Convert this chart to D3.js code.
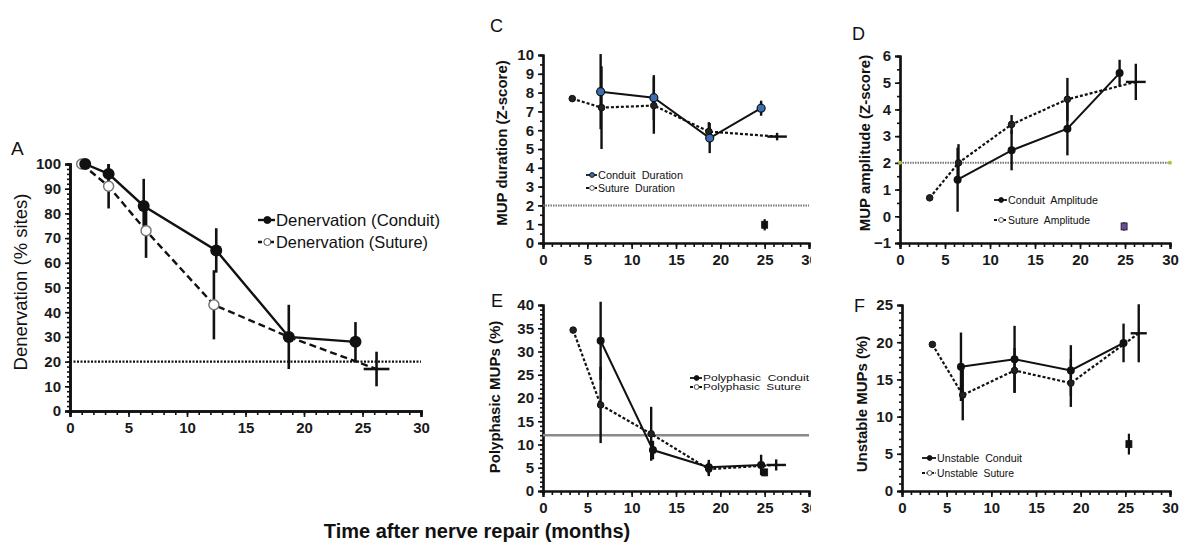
<!DOCTYPE html>
<html>
<head>
<meta charset="utf-8">
<script src="https://cdnjs.cloudflare.com/ajax/libs/d3/7.8.5/d3.min.js"></script>
<style>
  body { margin: 0; background: #fff; }
  svg { display: block; font-family: "Liberation Sans", Arial, sans-serif; }
</style>
</head>
<body>
<script>
const WIDTH = 1184;
const HEIGHT = 543;

// ---- data ----
// A: denervation (% sites)
const A_CONDUIT_MONTHS = [1.3, 3.3, 6.3, 12.5, 18.7, 24.4];
const A_CONDUIT = [100, 96, 83, 65, 30, 28];
const A_CONDUIT_ERR = [0, 4, 11, 9, 13, 8];
const A_SUTURE_MONTHS = [1.0, 3.3, 6.5, 12.3, 18.7, 26.2];
const A_SUTURE = [100, 91, 73, 43, 30, 17];
const A_SUTURE_ERR = [0, 9, 11, 14, 0, 7];
const A_SUTURE_XERR = [0, 0, 0, 0, 0, 1.1];

// C: MUP duration (Z-score)
const C_CONDUIT_MONTHS = [6.5, 12.5, 18.8, 24.6];
const C_CONDUIT = [8.05, 7.73, 5.58, 7.17];
const C_CONDUIT_ERR = [2.0, 1.2, 0.8, 0.4];
const C_SUTURE_MONTHS = [3.3, 6.6, 12.5, 18.7, 26.4];
const C_SUTURE = [7.68, 7.2, 7.31, 5.93, 5.66];
const C_SUTURE_ERR = [0, 2.2, 1.5, 0.5, 0.2];
const C_SUTURE_XERR = [0, 0, 0, 0, 1.1];
const C_EXTRA = [[25.0, 0.97, 0.3]];

// D: MUP amplitude (Z-score)
const D_CONDUIT_MONTHS = [6.4, 12.4, 18.6, 24.4];
const D_CONDUIT = [1.37, 2.47, 3.28, 5.36];
const D_CONDUIT_ERR = [1.2, 0.75, 1.0, 0.5];
const D_SUTURE_MONTHS = [3.3, 6.5, 12.4, 18.6, 26.2];
const D_SUTURE = [0.69, 2.0, 3.44, 4.38, 5.03];
const D_SUTURE_ERR = [0, 0.7, 0.35, 0.8, 0.68];
const D_SUTURE_XERR = [0, 0, 0, 0, 1.1];
const D_EXTRA = [[24.9, -0.38, 0.15]];

// E: polyphasic MUPs (%)
const E_CONDUIT_MONTHS = [6.5, 12.4, 18.7, 24.6];
const E_CONDUIT = [32.3, 8.8, 5.1, 5.6];
const E_CONDUIT_ERR = [8.4, 2.0, 1.6, 2.2];
const E_SUTURE_MONTHS = [3.4, 6.5, 12.2, 18.7, 26.3];
const E_SUTURE = [34.6, 18.5, 12.3, 4.7, 5.6];
const E_SUTURE_ERR = [0, 8.2, 5.8, 1.5, 1.2];
const E_SUTURE_XERR = [0, 0, 0, 0, 1.1];
const E_EXTRA = [[25.0, 4.0, 0.8]];

// F: unstable MUPs (%)
const F_CONDUIT_MONTHS = [6.6, 12.6, 18.9, 24.8];
const F_CONDUIT = [16.7, 17.7, 16.2, 19.9];
const F_CONDUIT_ERR = [4.6, 4.5, 3.4, 2.6];
const F_SUTURE_MONTHS = [3.4, 6.8, 12.6, 18.9, 26.5];
const F_SUTURE = [19.7, 12.9, 16.2, 14.5, 21.2];
const F_SUTURE_ERR = [0, 3.4, 3.0, 3.2, 3.9];
const F_SUTURE_XERR = [0, 0, 0, 0, 0.9];
const F_EXTRA = [[25.4, 6.3, 1.4]];

const X_TICKS = [0, 5, 10, 15, 20, 25, 30];

function zip(xs, ys, es, xes) {
  return xs.map((x, i) => ({ x: x, y: ys[i], e: es[i], xe: xes ? xes[i] : 0 }));
}

var svg = d3.select("body").append("svg")
  .attr("width", WIDTH)
  .attr("height", HEIGHT);

var panels = [
  {
    id: "A", letter: [11, 155], letterSize: 19,
    px: [70, 421], py: [411, 164], yDomain: [0, 100], yTicks: d3.range(0, 101, 10), yMinor: 2,
    tickFont: 15,
    title: "Denervation (% sites)", titlePos: [27, 282], titleSize: 18.5, titleWeight: "normal",
    conduit: zip(A_CONDUIT_MONTHS, A_CONDUIT, A_CONDUIT_ERR),
    suture: zip(A_SUTURE_MONTHS, A_SUTURE, A_SUTURE_ERR, A_SUTURE_XERR),
    extra: [], refY: 20, refStyle: "dotBlack", big: true,
    legend: { x: 258, y: 220, dy: 22, len: 17, size: 16.5, w: [164, 152], labels: ["Denervation (Conduit)", "Denervation (Suture)"] }
  },
  {
    id: "C", letter: [490, 32], letterSize: 18,
    px: [543, 809], py: [243, 55], yDomain: [0, 10], yTicks: d3.range(0, 11, 1), yMinor: 0.5,
    tickFont: 15,
    title: "MUP duration (Z-score)", titlePos: [507, 143], titleSize: 15, titleWeight: "bold",
    conduit: zip(C_CONDUIT_MONTHS, C_CONDUIT, C_CONDUIT_ERR),
    suture: zip(C_SUTURE_MONTHS, C_SUTURE, C_SUTURE_ERR, C_SUTURE_XERR),
    extra: C_EXTRA, extraColor: "#111", refY: 2, refStyle: "dotGray", conduitFill: "#3b6fb3",
    legend: { x: 586, y: 175, dy: 13, len: 11, size: 10, w: [85, 77], labels: ["Conduit  Duration", "Suture  Duration"] },
    clip: 809
  },
  {
    id: "D", letter: [852, 40], letterSize: 18,
    px: [900, 1170], py: [243, 56], yDomain: [-1, 6], yTicks: d3.range(-1, 7, 1), yMinor: 0.5,
    tickFont: 15,
    title: "MUP amplitude (Z-score)", titlePos: [870, 143], titleSize: 15, titleWeight: "bold",
    conduit: zip(D_CONDUIT_MONTHS, D_CONDUIT, D_CONDUIT_ERR),
    suture: zip(D_SUTURE_MONTHS, D_SUTURE, D_SUTURE_ERR, D_SUTURE_XERR),
    extra: D_EXTRA, extraColor: "#6a4c9c", refY: 2, refStyle: "dotGreenEnds",
    legend: { x: 994, y: 200, dy: 20, len: 13, size: 10, w: [90, 82], labels: ["Conduit  Amplitude", "Suture  Amplitude"] }
  },
  {
    id: "E", letter: [491, 307], letterSize: 18,
    px: [543, 809], py: [491, 305], yDomain: [0, 40], yTicks: d3.range(0, 41, 5), yMinor: 1,
    tickFont: 15,
    title: "Polyphasic  MUPs (%)", titlePos: [500, 397], titleSize: 15, titleWeight: "bold",
    conduit: zip(E_CONDUIT_MONTHS, E_CONDUIT, E_CONDUIT_ERR),
    suture: zip(E_SUTURE_MONTHS, E_SUTURE, E_SUTURE_ERR, E_SUTURE_XERR),
    extra: E_EXTRA, extraColor: "#111", refY: 12, refStyle: "solidGray",
    legend: { x: 690, y: 378, dy: 9, len: 12, size: 9.5, w: [106, 98], labels: ["Polyphasic  Conduit", "Polyphasic  Suture"] },
    clip: 809
  },
  {
    id: "F", letter: [854, 312], letterSize: 18,
    px: [902, 1170], py: [491, 305], yDomain: [0, 25], yTicks: d3.range(0, 26, 5), yMinor: 1,
    tickFont: 15,
    title: "Unstable MUPs (%)", titlePos: [867, 404], titleSize: 15, titleWeight: "bold",
    conduit: zip(F_CONDUIT_MONTHS, F_CONDUIT, F_CONDUIT_ERR),
    suture: zip(F_SUTURE_MONTHS, F_SUTURE, F_SUTURE_ERR, F_SUTURE_XERR),
    extra: F_EXTRA, extraColor: "#111", refY: null,
    legend: { x: 922, y: 458, dy: 15, len: 14, size: 10, w: [85, 77], labels: ["Unstable  Conduit", "Unstable  Suture"] }
  }
];

panels.forEach(drawPanel);

// shared x title
svg.append("text")
  .attr("x", 477)
  .attr("y", 538)
  .attr("text-anchor", "middle")
  .attr("font-size", "20px")
  .attr("font-weight", "bold")
  .attr("fill", "#111")
  .text("Time after nerve repair (months)");

function drawPanel(p) {
  var x = d3.scaleLinear().domain([0, 30]).range(p.px);
  var y = d3.scaleLinear().domain(p.yDomain).range(p.py);
  var big = !!p.big;
  var lw = big ? 2.6 : 2.2;

  var g = svg.append("g");
  if (p.clip) {
    svg.append("clipPath").attr("id", "clip" + p.id)
      .append("rect").attr("x", 0).attr("y", 0).attr("width", p.clip + 2).attr("height", HEIGHT);
    g.attr("clip-path", "url(#clip" + p.id + ")");
  }

  // panel letter
  svg.append("text")
    .attr("x", p.letter[0]).attr("y", p.letter[1])
    .attr("font-size", p.letterSize + "px")
    .attr("fill", "#111")
    .text(p.id);

  // y title
  svg.append("text")
    .attr("transform", "translate(" + p.titlePos[0] + "," + p.titlePos[1] + ") rotate(-90)")
    .attr("text-anchor", "middle")
    .attr("font-size", p.titleSize + "px")
    .attr("font-weight", p.titleWeight)
    .attr("fill", "#111")
    .text(p.title);

  // x axis: minor ticks every month
  var xAxis = g.append("g")
    .attr("transform", "translate(0," + p.py[0] + ")")
    .call(d3.axisBottom(x).tickValues(d3.range(0, 31, 1)).tickSize(4).tickFormat(""));
  xAxis.append("g")
    .call(d3.axisBottom(x).tickValues(X_TICKS).tickSize(6).tickPadding(5).tickFormat(d3.format("d")));
  xAxis.selectAll("path").attr("stroke", "#111").attr("stroke-width", lw);
  xAxis.selectAll("line").attr("stroke", "#111").attr("stroke-width", 1.6);
  xAxis.selectAll("text")
    .attr("font-size", p.tickFont + "px")
    .attr("font-weight", "bold")
    .attr("font-family", "Liberation Sans, Arial, sans-serif")
    .attr("fill", "#1a1a1a");

  // y axis
  var yAxis = g.append("g")
    .attr("transform", "translate(" + p.px[0] + ",0)")
    .call(d3.axisLeft(y).tickValues(d3.range(p.yDomain[0], p.yDomain[1] + 1e-9, p.yMinor)).tickSize(3).tickFormat(""));
  yAxis.append("g")
    .call(d3.axisLeft(y).tickValues(p.yTicks).tickSize(5).tickPadding(4).tickFormat(d3.format("d")));
  yAxis.selectAll("path").attr("stroke", "#111").attr("stroke-width", lw);
  yAxis.selectAll("line").attr("stroke", "#111").attr("stroke-width", 1.6);
  yAxis.selectAll("text")
    .attr("font-size", p.tickFont + "px")
    .attr("font-weight", "bold")
    .attr("font-family", "Liberation Sans, Arial, sans-serif")
    .attr("fill", "#1a1a1a");

  // reference line
  if (p.refY !== null) {
    var ref = g.append("line")
      .attr("x1", x(0)).attr("x2", x(30))
      .attr("y1", y(p.refY)).attr("y2", y(p.refY));
    if (p.refStyle === "dotBlack") {
      ref.attr("stroke", "#111").attr("stroke-width", 2.2).attr("stroke-dasharray", "2,1.5");
    } else if (p.refStyle === "solidGray") {
      ref.attr("stroke", "#8a8a8a").attr("stroke-width", 2.4);
    } else {
      ref.attr("stroke", "#777").attr("stroke-width", 2).attr("stroke-dasharray", "1.5,1");
    }
    if (p.refStyle === "dotGreenEnds") {
      g.selectAll(".refend").data([0, 30]).enter().append("circle")
        .attr("cx", d => x(d)).attr("cy", y(p.refY)).attr("r", 2)
        .attr("fill", "#a8c83c");
    }
  }

  // error bars
  var all = p.conduit.concat(p.suture);
  g.selectAll(".ebar").data(all.filter(d => d.e > 0)).enter().append("line")
    .attr("x1", d => x(d.x)).attr("x2", d => x(d.x))
    .attr("y1", d => y(d.y - d.e)).attr("y2", d => y(d.y + d.e))
    .attr("stroke", "#111").attr("stroke-width", big ? 2.6 : 2.4);
  g.selectAll(".xbar").data(all.filter(d => d.xe > 0)).enter().append("line")
    .attr("x1", d => x(d.x - d.xe)).attr("x2", d => x(d.x + d.xe))
    .attr("y1", d => y(d.y)).attr("y2", d => y(d.y))
    .attr("stroke", "#111").attr("stroke-width", big ? 2.6 : 2.4);

  // lines
  var line = d3.line().x(d => x(d.x)).y(d => y(d.y));
  g.append("path").datum(p.suture).attr("d", line)
    .attr("fill", "none").attr("stroke", "#111").attr("stroke-width", big ? 2.4 : 2.2)
    .attr("stroke-dasharray", big ? "7,4" : "3,2");
  g.append("path").datum(p.conduit).attr("d", line)
    .attr("fill", "none").attr("stroke", "#111").attr("stroke-width", big ? 2.4 : 2);

  // markers
  var sutPts = p.suture.filter(d => d.xe === 0);
  g.selectAll(".sm").data(sutPts).enter().append("circle")
    .attr("cx", d => x(d.x)).attr("cy", d => y(d.y))
    .attr("r", big ? 5 : 3.3)
    .attr("fill", big ? "#fff" : "#222")
    .attr("stroke", big ? "#777" : "#111")
    .attr("stroke-width", big ? 1.5 : 1);
  g.selectAll(".cm").data(p.conduit).enter().append("circle")
    .attr("cx", d => x(d.x)).attr("cy", d => y(d.y))
    .attr("r", big ? 6 : 4)
    .attr("fill", p.conduitFill || "#111")
    .attr("stroke", "#111")
    .attr("stroke-width", p.conduitFill ? 1.2 : 0);

  // extra reference points
  p.extra.forEach(function (d) {
    g.append("line")
      .attr("x1", x(d[0])).attr("x2", x(d[0]))
      .attr("y1", y(d[1] - d[2])).attr("y2", y(d[1] + d[2]))
      .attr("stroke", "#111").attr("stroke-width", 2.2);
    g.append("rect")
      .attr("x", x(d[0]) - 3).attr("y", y(d[1]) - 3.5)
      .attr("width", 6).attr("height", 7)
      .attr("fill", p.extraColor)
      .attr("stroke", "#111").attr("stroke-width", 0.8);
  });

  // legend
  var L = p.legend;
  [0, 1].forEach(function (i) {
    var ly = L.y + i * L.dy;
    g.append("line")
      .attr("x1", L.x).attr("x2", L.x + L.len)
      .attr("y1", ly).attr("y2", ly)
      .attr("stroke", "#111").attr("stroke-width", big ? 2.4 : 1.8)
      .attr("stroke-dasharray", i === 1 ? (big ? "4,2" : "3,1.5") : null);
    g.append("circle")
      .attr("cx", L.x + L.len * 0.55).attr("cy", ly)
      .attr("r", big ? 3.5 : 2.4)
      .attr("fill", i === 0 ? (p.conduitFill || "#111") : "#fff")
      .attr("stroke", i === 0 ? "#111" : "#555")
      .attr("stroke-width", 1);
    g.append("text")
      .attr("x", L.x + L.len + 1)
      .attr("y", ly)
      .attr("dy", "0.35em")
      .attr("font-size", L.size + "px")
      .attr("fill", "#111")
      .attr("textLength", L.w[i])
      .attr("lengthAdjust", "spacingAndGlyphs")
      .style("white-space", "pre")
      .text(L.labels[i]);
  });
}
</script>
</body>
</html>
